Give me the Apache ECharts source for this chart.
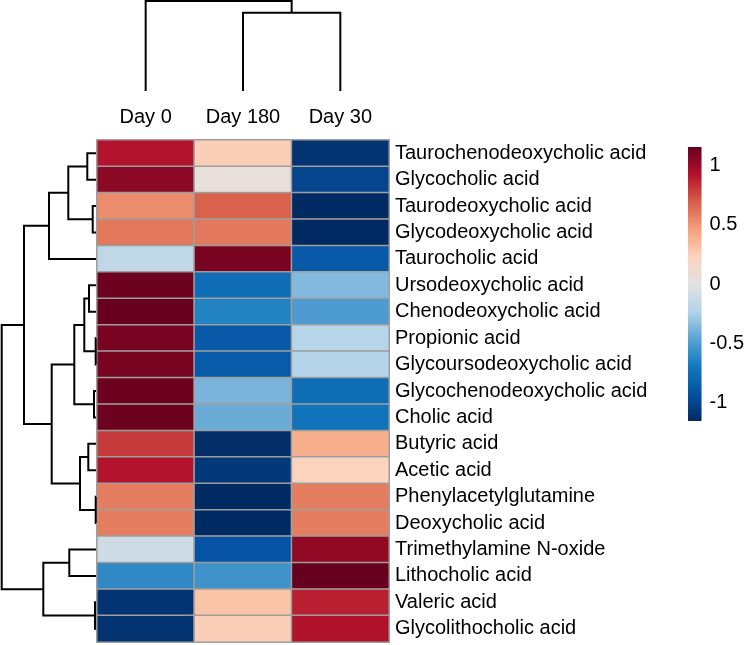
<!DOCTYPE html>
<html><head><meta charset="utf-8">
<script src="https://cdn.jsdelivr.net/npm/echarts@6/dist/echarts.min.js"></script>
<style>html,body{margin:0;padding:0;background:#fff}#c{width:747px;height:645px}</style>
</head><body><div id="c"></div>
<script>
const columns = ['Day 0', 'Day 180', 'Day 30'];
const rows = [
  'Taurochenodeoxycholic acid', 'Glycocholic acid', 'Taurodeoxycholic acid',
  'Glycodeoxycholic acid', 'Taurocholic acid', 'Ursodeoxycholic acid',
  'Chenodeoxycholic acid', 'Propionic acid', 'Glycoursodeoxycholic acid',
  'Glycochenodeoxycholic acid', 'Cholic acid', 'Butyric acid', 'Acetic acid',
  'Phenylacetylglutamine', 'Deoxycholic acid', 'Trimethylamine N-oxide',
  'Lithocholic acid', 'Valeric acid', 'Glycolithocholic acid'
];
const day0   = [0.92, 1.04, 0.53, 0.60, -0.18, 1.14, 1.155, 1.10, 1.10, 1.14, 1.14, 0.80, 0.92, 0.58, 0.58, -0.10, -0.60, -1.10, -1.10];
const day180 = [0.25, 0.05, 0.68, 0.60, 1.10, -0.76, -0.64, -0.88, -0.87, -0.38, -0.42, -1.14, -1.07, -1.155, -1.155, -0.92, -0.55, 0.30, 0.25];
const day30  = [-1.10, -1.00, -1.15, -1.155, -0.88, -0.36, -0.50, -0.22, -0.23, -0.76, -0.72, 0.40, 0.21, 0.58, 0.58, 1.03, 1.155, 0.88, 0.93];
const colorTicks = [1, 0.5, 0, -0.5, -1];
const scaleMin = -1.155, scaleMax = 1.155;
const palette = ['#022A62','#0552A2','#1378BD','#5AA3D2','#B5D4E9','#E2E2E2','#FCD3BC','#F4A07C','#D65E48','#B2122B','#67001F'];

// dendrograms, hclust style: negative = leaf (1-based), positive = earlier merge (1-based)
const rowMerge = [[-1,-2],[-3,-4],[1,2],[3,-5],[-6,-7],[-8,-9],[5,6],[-10,-11],[7,8],[-12,-13],[-14,-15],[10,11],[9,12],[4,13],[-16,-17],[-18,-19],[15,16],[14,17]];
const rowHeight = [8.7, 3.3, 27.7, 47, 7, 0.3, 11.7, 2, 21.7, 7.7, 0.3, 16, 44.3, 72, 26.7, 1, 52.7, 94.3];
const colMerge = [[-2,-3],[-1,1]];
const colHeight = [78.3, 90];

function dendro(merge, heights) {
  const pos = [], hts = [], items = [];
  merge.forEach((m, k) => {
    const p = m.map(v => v < 0 ? (-v - 1) + 0.5 : pos[v - 1]);
    const h = m.map(v => v < 0 ? 0 : hts[v - 1]);
    pos[k] = (p[0] + p[1]) / 2; hts[k] = heights[k];
    items.push([p[0], h[0], p[1], h[1], heights[k]]);
  });
  return items;
}
const rowSegs = dendro(rowMerge, rowHeight);
const colSegs = dendro(colMerge, colHeight);

const heatData = [];
[day0, day180, day30].forEach((arr, c) => arr.forEach((v, r) => heatData.push([c, r, v])));

const FONT = "'Liberation Sans', Arial, sans-serif";
const chart = echarts.init(document.getElementById('c'), null, {renderer: 'canvas'});
const lineStyle = {stroke: '#000', lineWidth: 2, fill: null};

chart.setOption({
  animation: false,
  textStyle: {fontFamily: FONT},
  grid: [
    {left: 97, top: 140, width: 292, height: 502},      // heatmap
    {left: 0, top: 140, width: 96, height: 502},        // row dendrogram
    {left: 97, top: 0, width: 292, height: 91},         // column dendrogram
    {left: 688, top: 147, width: 19, height: 274}       // colour bar
  ],
  xAxis: [
    {gridIndex: 0, type: 'category', data: columns, position: 'top',
     axisLine: {show: false}, axisTick: {show: false}, splitLine: {show: false},
     axisLabel: {fontSize: 20, color: '#000', margin: 13, fontFamily: FONT}},
    {gridIndex: 1, type: 'value', min: 0, max: 96, inverse: true, show: false},
    {gridIndex: 2, type: 'value', min: 0, max: 3, show: false},
    {gridIndex: 3, type: 'value', min: 0, max: 1, show: false}
  ],
  yAxis: [
    {gridIndex: 0, type: 'category', data: rows, inverse: true, position: 'right',
     axisLine: {show: false}, axisTick: {show: false}, splitLine: {show: false},
     axisLabel: {fontSize: 20, color: '#000', margin: 6, fontFamily: FONT}},
    {gridIndex: 1, type: 'value', min: 0, max: 19, inverse: true, show: false},
    {gridIndex: 2, type: 'value', min: 0, max: 91, show: false},
    {gridIndex: 3, type: 'value', min: scaleMin, max: scaleMax, position: 'right',
     axisLine: {show: false}, axisTick: {show: false}, splitLine: {show: false},
     axisLabel: {customValues: colorTicks, fontSize: 20, color: '#000', margin: 8, fontFamily: FONT,
                 formatter: v => String(v)}}
  ],
  visualMap: {type: 'continuous', show: false, min: scaleMin, max: scaleMax, seriesIndex: 0,
              inRange: {color: palette}},
  series: [
    {type: 'heatmap', xAxisIndex: 0, yAxisIndex: 0, data: heatData,
     itemStyle: {borderColor: '#9E9E9E', borderWidth: 1.5},
     emphasis: {disabled: true}},
    {type: 'custom', xAxisIndex: 1, yAxisIndex: 1, data: rowSegs, silent: true,
     renderItem: (params, api) => {
       const p1 = api.value(0), h1 = api.value(1), p2 = api.value(2), h2 = api.value(3), H = api.value(4);
       return {type: 'polyline', shape: {points: [api.coord([h1, p1]), api.coord([H, p1]), api.coord([H, p2]), api.coord([h2, p2])]}, style: lineStyle};
     }},
    {type: 'custom', xAxisIndex: 2, yAxisIndex: 2, data: colSegs, silent: true,
     renderItem: (params, api) => {
       const p1 = api.value(0), h1 = api.value(1), p2 = api.value(2), h2 = api.value(3), H = api.value(4);
       return {type: 'polyline', shape: {points: [api.coord([p1, h1]), api.coord([p1, H]), api.coord([p2, H]), api.coord([p2, h2])]}, style: lineStyle};
     }},
    {type: 'custom', xAxisIndex: 3, yAxisIndex: 3, data: [[0, scaleMin, 1, scaleMax]], silent: true,
     renderItem: (params, api) => {
       const a = api.coord([api.value(0), api.value(3)]);
       const b = api.coord([api.value(2), api.value(1)]);
       const stops = palette.map((c, i) => ({offset: i / (palette.length - 1), color: c}));
       return {type: 'rect', shape: {x: a[0], y: a[1], width: b[0] - a[0], height: b[1] - a[1]},
               style: {fill: new echarts.graphic.LinearGradient(0, 1, 0, 0, stops)}};
     }}
  ]
});
</script></body></html>
